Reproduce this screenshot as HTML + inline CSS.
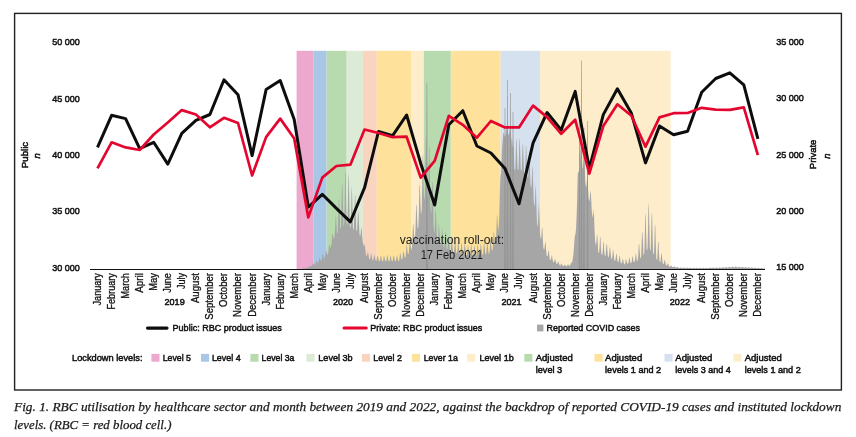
<!DOCTYPE html>
<html><head><meta charset="utf-8"><title>Fig 1</title>
<style>
html,body{margin:0;padding:0;background:#fff;}
body{width:856px;height:437px;overflow:hidden;}
svg{display:block;will-change:transform;}
.t{font-family:"Liberation Sans",sans-serif;font-size:9.5px;fill:#111;stroke:#111;stroke-width:0.5px;}
.m{font-size:10px;stroke-width:0.3px;}
.a{font-family:"Liberation Sans",sans-serif;font-size:12px;fill:#1c1c1c;}
.c{font-family:"Liberation Serif",serif;font-style:italic;font-size:12.6px;fill:#1a1a1a;stroke:#1a1a1a;stroke-width:0.25px;}
</style></head><body>
<svg width="856" height="437" viewBox="0 0 856 437">
<rect x="14.6" y="13.4" width="826.8" height="376.6" fill="#fff" stroke="#231f20" stroke-width="1.4"/>
<rect x="296.6" y="50.8" width="16.7" height="218.2" fill="#ECA8CD"/>
<rect x="313.3" y="50.8" width="13.3" height="218.2" fill="#A8C7E7"/>
<rect x="326.6" y="50.8" width="20.1" height="218.2" fill="#B8DAAF"/>
<rect x="346.7" y="50.8" width="16.2" height="218.2" fill="#DCEBD6"/>
<rect x="362.9" y="50.8" width="13.9" height="218.2" fill="#F9D4BF"/>
<rect x="376.8" y="50.8" width="34.2" height="218.2" fill="#FEE29C"/>
<rect x="411" y="50.8" width="12.8" height="218.2" fill="#FDEDCB"/>
<rect x="423.8" y="50.8" width="27.0" height="218.2" fill="#B8DAAF"/>
<rect x="450.8" y="50.8" width="49.8" height="218.2" fill="#FEE29C"/>
<rect x="500.6" y="50.8" width="39.4" height="218.2" fill="#D6E1F0"/>
<rect x="540" y="50.8" width="130.6" height="218.2" fill="#FDEDCB"/>
<path d="M300,269L300.00,269.0L300.46,268.9L300.92,268.9L301.38,268.8L301.84,268.8L302.30,268.7L302.77,268.6L303.23,268.4L303.69,268.3L304.15,268.4L304.61,268.4L305.07,268.4L305.53,268.3L305.99,268.1L306.45,267.6L306.91,267.4L307.37,267.5L307.84,267.6L308.30,267.5L308.76,267.3L309.22,266.7L309.68,266.0L310.14,265.6L310.60,266.0L311.06,266.5L311.52,266.3L311.98,266.0L312.44,265.1L312.91,263.6L313.37,263.3L313.83,264.2L314.29,264.9L314.75,264.9L315.21,264.5L315.67,263.1L316.13,260.7L316.59,260.5L317.05,262.0L317.51,262.9L317.98,262.8L318.44,262.3L318.90,260.5L319.36,257.7L319.82,257.7L320.28,259.2L320.74,260.7L321.20,260.7L321.66,260.1L322.12,257.8L322.58,254.0L323.05,254.1L323.51,256.2L323.97,258.5L324.43,258.5L324.89,257.8L325.35,255.4L325.81,250.7L326.27,250.4L326.73,253.1L327.19,255.2L327.66,254.6L328.12,253.2L328.58,249.5L329.04,244.8L329.50,244.6L329.96,246.6L330.42,247.9L330.88,247.2L331.34,245.0L331.80,240.3L332.26,234.8L332.73,233.7L333.19,235.8L333.65,238.9L334.11,238.8L334.57,236.8L335.03,229.5L335.49,219.7L335.95,214.6L336.41,224.1L336.87,232.7L337.33,233.9L337.80,231.4L338.26,216.8L338.72,198.9L339.18,199.8L339.64,211.2L340.10,227.7L340.56,229.4L341.02,226.7L341.48,207.6L341.94,183.9L342.40,186.0L342.87,200.9L343.33,224.0L343.79,226.8L344.25,223.0L344.71,202.6L345.17,171.2L345.63,172.9L346.09,198.3L346.55,222.4L347.01,225.3L347.47,221.9L347.94,199.7L348.40,173.3L348.86,178.3L349.32,201.5L349.78,224.7L350.24,227.9L350.70,226.0L351.16,209.2L351.62,184.4L352.08,193.8L352.54,210.1L353.01,227.8L353.47,229.9L353.93,227.9L354.39,212.9L354.85,196.8L355.31,194.2L355.77,213.3L356.23,229.0L356.69,231.2L357.15,230.1L357.61,219.7L358.08,210.6L358.54,213.7L359.00,223.4L359.46,234.0L359.92,236.1L360.38,236.0L360.84,231.5L361.30,227.0L361.76,230.1L362.22,236.7L362.68,241.4L363.15,243.5L363.61,245.7L364.07,245.9L364.53,244.1L364.99,246.7L365.45,250.1L365.91,254.2L366.37,255.6L366.83,256.4L367.29,254.6L367.75,252.1L368.22,252.8L368.68,255.9L369.14,258.9L369.60,259.4L370.06,259.3L370.52,257.2L370.98,253.3L371.44,254.5L371.90,257.2L372.36,260.1L372.82,260.5L373.29,260.2L373.75,257.8L374.21,254.9L374.67,255.6L375.13,258.3L375.59,260.5L376.05,260.8L376.51,260.6L376.97,258.3L377.43,255.9L377.90,256.1L378.36,258.3L378.82,260.9L379.28,261.3L379.74,261.0L380.20,259.2L380.66,256.2L381.12,255.8L381.58,258.8L382.04,261.0L382.50,261.3L382.97,261.0L383.43,259.0L383.89,255.2L384.35,256.5L384.81,259.0L385.27,261.0L385.73,261.3L386.19,261.0L386.65,258.9L387.11,255.1L387.57,255.4L388.04,258.8L388.50,261.0L388.96,261.3L389.42,261.0L389.88,258.8L390.34,255.9L390.80,256.1L391.26,258.7L391.72,261.0L392.18,261.3L392.64,261.0L393.11,258.6L393.57,256.2L394.03,255.3L394.49,258.4L394.95,261.0L395.41,261.3L395.87,261.0L396.33,258.7L396.79,256.2L397.25,255.4L397.71,258.7L398.18,260.9L398.64,261.0L399.10,260.4L399.56,257.8L400.02,253.0L400.48,253.5L400.94,256.7L401.40,259.3L401.86,259.5L402.32,258.9L402.78,255.6L403.25,251.4L403.71,251.7L404.17,254.5L404.63,257.8L405.09,257.9L405.55,256.9L406.01,252.3L406.47,245.6L406.93,245.0L407.39,250.6L407.85,254.0L408.32,254.2L408.78,252.9L409.24,247.7L409.70,239.9L410.16,238.6L410.62,244.6L411.08,249.9L411.54,249.2L412.00,246.6L412.46,238.4L412.92,225.6L413.39,223.6L413.85,230.9L414.31,238.0L414.77,237.9L415.23,234.8L415.69,222.7L416.15,205.6L416.61,204.6L417.07,216.5L417.53,228.1L417.99,228.7L418.46,225.3L418.92,210.1L419.38,185.5L419.84,185.3L420.30,197.4L420.76,213.4L421.22,213.6L421.68,208.7L422.14,189.3L422.60,157.3L423.06,153.1L423.53,175.0L423.99,198.1L424.45,200.4L424.91,195.6L425.37,172.1L425.83,137.5L426.29,136.3L426.75,164.8L427.21,193.5L427.67,198.2L428.13,195.9L428.60,176.7L429.06,144.4L429.52,149.9L429.98,184.4L430.44,206.8L430.90,212.2L431.36,212.5L431.82,197.3L432.28,181.4L432.74,183.5L433.21,208.0L433.67,227.3L434.13,232.0L434.59,232.7L435.05,222.4L435.51,208.6L435.97,210.5L436.43,225.6L436.89,237.9L437.35,240.3L437.81,240.1L438.28,233.9L438.74,222.0L439.20,226.9L439.66,235.4L440.12,243.3L440.58,244.9L441.04,244.7L441.50,239.3L441.96,227.8L442.42,232.0L442.88,239.9L443.35,246.3L443.81,247.4L444.27,246.9L444.73,241.1L445.19,231.7L445.65,232.6L446.11,241.7L446.57,248.5L447.03,249.5L447.49,249.1L447.95,244.1L448.42,235.9L448.88,239.1L449.34,244.3L449.80,250.7L450.26,251.6L450.72,251.2L451.18,246.4L451.64,238.3L452.10,241.0L452.56,246.7L453.02,251.7L453.49,252.5L453.95,251.9L454.41,247.5L454.87,241.0L455.33,241.6L455.79,247.4L456.25,252.4L456.71,253.1L457.17,252.6L457.63,247.7L458.09,242.0L458.56,241.8L459.02,248.6L459.48,253.2L459.94,254.0L460.40,253.4L460.86,249.2L461.32,243.0L461.78,243.2L462.24,248.5L462.70,253.9L463.16,254.5L463.63,254.1L464.09,249.6L464.55,244.0L465.01,244.9L465.47,249.7L465.93,254.6L466.39,255.3L466.85,254.7L467.31,250.7L467.77,245.3L468.23,246.0L468.70,250.0L469.16,254.8L469.62,255.3L470.08,254.8L470.54,250.9L471.00,243.9L471.46,245.1L471.92,250.6L472.38,254.8L472.84,255.3L473.30,254.8L473.77,250.9L474.23,245.7L474.69,245.7L475.15,250.5L475.61,254.8L476.07,255.4L476.53,254.8L476.99,250.8L477.45,244.5L477.91,245.4L478.37,249.9L478.84,254.8L479.30,255.5L479.76,254.8L480.22,250.5L480.68,243.6L481.14,245.2L481.60,249.7L482.06,254.5L482.52,255.0L482.98,254.3L483.45,250.3L483.91,242.9L484.37,243.5L484.83,248.6L485.29,253.9L485.75,254.4L486.21,253.7L486.67,249.5L487.13,243.5L487.59,242.3L488.05,247.9L488.52,253.3L488.98,253.9L489.44,252.8L489.90,247.7L490.36,239.5L490.82,238.3L491.28,245.4L491.74,250.2L492.20,250.6L492.66,249.2L493.12,243.0L493.59,232.7L494.05,232.1L494.51,239.8L494.97,244.8L495.43,244.6L495.89,242.1L496.35,233.2L496.81,217.5L497.27,214.1L497.73,225.3L498.19,231.0L498.66,226.8L499.12,219.8L499.58,203.8L500.04,185.9L500.50,175.7L500.96,174.4L501.42,167.6L501.88,151.4L502.34,144.8L502.80,140.0L503.26,133.7L503.73,132.5L504.19,133.8L504.65,136.5L505.11,136.6L505.57,135.8L506.03,132.7L506.49,127.8L506.95,128.4L507.41,131.5L507.87,134.2L508.33,134.8L508.80,134.9L509.26,132.5L509.72,128.9L510.18,129.9L510.64,134.0L511.10,137.3L511.56,140.0L512.02,147.1L512.48,146.5L512.94,137.7L513.40,143.4L513.87,154.0L514.33,168.7L514.79,170.4L515.25,168.7L515.71,156.6L516.17,138.9L516.63,139.7L517.09,155.6L517.55,168.7L518.01,170.3L518.47,168.8L518.94,156.5L519.40,137.7L519.86,141.0L520.32,155.2L520.78,169.2L521.24,170.9L521.70,169.4L522.16,156.8L522.62,144.8L523.08,143.3L523.54,159.2L524.01,171.7L524.47,173.8L524.93,172.7L525.39,162.4L525.85,145.6L526.31,146.1L526.77,162.9L527.23,175.3L527.69,177.8L528.15,177.7L528.61,169.7L529.08,157.3L529.54,155.8L530.00,171.2L530.46,184.6L530.92,187.3L531.38,187.4L531.84,178.9L532.30,165.5L532.76,169.2L533.22,185.5L533.69,200.2L534.15,205.0L534.61,206.8L535.07,198.8L535.53,184.6L535.99,191.6L536.45,207.4L536.91,222.2L537.37,225.7L537.83,226.1L538.29,216.7L538.76,202.5L539.22,210.3L539.68,223.3L540.14,235.2L540.60,238.2L541.06,238.9L541.52,233.5L541.98,227.3L542.44,228.8L542.90,240.2L543.36,247.6L543.83,249.5L544.29,249.8L544.75,246.1L545.21,241.0L545.67,243.7L546.13,249.9L546.59,255.2L547.05,256.2L547.51,256.3L547.97,254.3L548.43,250.4L548.90,251.4L549.36,255.8L549.82,259.2L550.28,260.0L550.74,260.0L551.20,258.4L551.66,255.1L552.12,256.1L552.58,259.5L553.04,261.7L553.50,262.3L553.97,262.4L554.43,261.0L554.89,258.6L555.35,259.8L555.81,261.6L556.27,263.5L556.73,263.9L557.19,264.0L557.65,263.0L558.11,261.3L558.57,262.0L559.04,263.7L559.50,265.1L559.96,265.5L560.42,265.5L560.88,264.6L561.34,263.6L561.80,263.7L562.26,264.9L562.72,265.9L563.18,266.1L563.64,266.1L564.11,265.5L564.57,264.7L565.03,264.7L565.49,265.5L565.95,266.2L566.41,266.3L566.87,266.1L567.33,265.5L567.79,264.6L568.25,264.6L568.71,265.4L569.18,265.8L569.64,265.6L570.10,265.2L570.56,264.2L571.02,263.0L571.48,262.6L571.94,263.0L572.40,261.1L572.86,258.2L573.32,254.9L573.78,249.7L574.25,242.9L574.71,237.0L575.17,235.0L575.63,232.9L576.09,227.5L576.55,217.6L577.01,203.6L577.47,183.9L577.93,171.0L578.39,171.6L578.85,173.6L579.32,171.3L579.78,167.8L580.24,156.7L580.70,142.1L581.16,140.9L581.62,154.0L582.08,163.1L582.54,167.5L583.00,169.2L583.46,162.9L583.92,156.0L584.39,160.5L584.85,171.1L585.31,182.3L585.77,185.9L586.23,187.2L586.69,183.3L587.15,177.0L587.61,177.7L588.07,189.3L588.53,197.8L589.00,200.4L589.46,201.1L589.92,197.0L590.38,190.6L590.84,193.1L591.30,201.2L591.76,210.5L592.22,214.5L592.68,217.9L593.14,215.2L593.60,208.3L594.07,215.4L594.53,229.6L594.99,239.4L595.45,243.4L595.91,245.5L596.37,242.5L596.83,235.7L597.29,234.5L597.75,243.2L598.21,251.7L598.67,253.1L599.14,252.4L599.60,246.2L600.06,236.7L600.52,238.1L600.98,248.2L601.44,254.1L601.90,255.3L602.36,254.6L602.82,250.0L603.28,242.5L603.74,241.5L604.21,249.9L604.67,255.2L605.13,256.1L605.59,255.5L606.05,250.0L606.51,244.5L606.97,243.5L607.43,250.2L607.89,256.2L608.35,257.2L608.81,256.7L609.28,252.8L609.74,246.7L610.20,248.3L610.66,252.9L611.12,258.1L611.58,259.0L612.04,258.7L612.50,255.1L612.96,250.0L613.42,250.8L613.88,256.1L614.35,260.1L614.81,260.8L615.27,260.6L615.73,258.2L616.19,253.7L616.65,253.8L617.11,258.1L617.57,261.6L618.03,262.1L618.49,262.0L618.95,259.5L619.42,255.5L619.88,256.3L620.34,260.1L620.80,262.9L621.26,263.5L621.72,263.3L622.18,261.5L622.64,259.3L623.10,259.5L623.56,261.8L624.02,264.2L624.49,264.4L624.95,264.1L625.41,262.3L625.87,259.0L626.33,259.5L626.79,261.8L627.25,263.6L627.71,263.8L628.17,263.4L628.63,261.5L629.09,258.3L629.56,257.4L630.02,260.8L630.48,263.0L630.94,263.2L631.40,262.8L631.86,260.3L632.32,256.3L632.78,256.8L633.24,259.9L633.70,262.1L634.16,262.3L634.63,261.7L635.09,259.0L635.55,255.0L636.01,253.1L636.47,257.8L636.93,261.0L637.39,260.9L637.85,259.8L638.31,254.8L638.77,244.3L639.24,243.9L639.70,250.4L640.16,257.5L640.62,258.5L641.08,256.8L641.54,247.1L642.00,231.7L642.46,233.0L642.92,241.1L643.38,254.1L643.84,255.4L644.31,252.6L644.77,238.1L645.23,215.9L645.69,213.0L646.15,234.4L646.61,249.1L647.07,250.9L647.53,247.7L647.99,230.3L648.45,202.2L648.91,208.2L649.38,228.1L649.84,248.3L650.30,250.7L650.76,248.7L651.22,230.9L651.68,212.4L652.14,215.2L652.60,236.7L653.06,252.1L653.52,254.6L653.98,253.5L654.45,241.3L654.91,223.4L655.37,227.2L655.83,245.5L656.29,258.1L656.75,260.2L657.21,259.5L657.67,251.4L658.13,240.5L658.59,243.1L659.05,254.2L659.52,261.3L659.98,262.3L660.44,261.8L660.90,257.5L661.36,253.5L661.82,253.7L662.28,260.0L662.74,263.4L663.20,264.1L663.66,263.9L664.12,262.1L664.59,259.6L665.05,261.1L665.51,263.0L665.97,265.1L666.43,265.6L666.89,265.7L667.35,264.7L667.81,263.4L668.27,264.1L668.73,265.4L669.19,266.4L669.66,266.7L670.12,266.8L670.58,266.5L671.04,265.6L671.50,265.8L671.96,266.4L672.42,267.1L672.88,267.2L673.34,267.2L673.80,266.9L674.26,266.3L674.73,266.4L675.19,267.0L675.65,267.5L676.11,267.6L676.57,267.6L677.03,267.3L677.49,266.9L677.95,266.9L678.41,267.4L678.87,267.9L679.33,267.9L679.80,268.0L680.26,267.8L680.72,267.4L681.18,267.4L681.64,267.7L682.10,268.0L682.56,268.1L683.02,268.0L683.48,267.8L683.94,267.5L684.40,267.4L684.87,267.8L685.33,268.1L685.79,268.1L686.25,268.1L686.71,267.9L687.17,267.5L687.63,267.6L688.09,267.9L688.55,268.1L689.01,268.1L689.48,268.1L689.94,267.9L690.40,267.6L690.86,267.7L691.32,267.9L691.78,268.2L692.24,268.2L692.70,268.2L693.16,268.0L693.62,267.6L694.08,267.7L694.55,268.0L695.01,268.2L695.47,268.2L695.93,268.2L696.39,268.0L696.85,267.7L697.31,267.8L697.77,268.0L698.23,268.3L698.69,268.3L699.15,268.3L699.62,268.1L700.08,267.8L700.54,267.8L701.00,268.1L701.46,268.3L701.92,268.3L702.38,268.2L702.84,268.1L703.30,267.8L703.76,267.8L704.22,268.0L704.69,268.2L705.15,268.2L705.61,268.2L706.07,268.0L706.53,267.7L706.99,267.7L707.45,267.9L707.91,268.2L708.37,268.2L708.83,268.1L709.29,267.9L709.76,267.6L710.22,267.6L710.68,267.9L711.14,268.1L711.60,268.1L712.06,268.1L712.52,267.9L712.98,267.5L713.44,267.5L713.90,267.8L714.36,268.1L714.83,268.1L715.29,268.1L715.75,267.8L716.21,267.4L716.67,267.5L717.13,267.8L717.59,268.0L718.05,268.1L718.51,268.0L718.97,267.8L719.43,267.3L719.90,267.4L720.36,267.7L720.82,267.9L721.28,268.0L721.74,267.9L722.20,267.6L722.66,267.1L723.12,267.2L723.58,267.5L724.04,267.8L724.50,267.8L724.97,267.8L725.43,267.4L725.89,267.1L726.35,267.0L726.81,267.4L727.27,267.7L727.73,267.7L728.19,267.7L728.65,267.3L729.11,266.7L729.57,266.7L730.04,267.2L730.50,267.6L730.96,267.6L731.42,267.5L731.88,267.2L732.34,266.6L732.80,266.6L733.26,267.0L733.72,267.4L734.18,267.5L734.64,267.4L735.11,267.0L735.57,266.3L736.03,266.6L736.49,266.9L736.95,267.4L737.41,267.5L737.87,267.5L738.33,267.2L738.79,266.5L739.25,266.7L739.71,267.2L740.18,267.5L740.64,267.6L741.10,267.6L741.56,267.2L742.02,266.7L742.48,266.8L742.94,267.3L743.40,267.6L743.86,267.7L744.32,267.7L744.79,267.4L745.25,267.0L745.71,267.0L746.17,267.4L746.63,267.7L747.09,267.8L747.55,267.8L748.01,267.5L748.47,267.0L748.93,267.0L749.39,267.5L749.86,267.9L750.32,267.9L750.78,267.9L751.24,267.6L751.70,267.3L752.16,267.4L752.62,267.7L753.08,268.0L753.54,268.0L754.00,268.0L754.46,267.8L754.93,267.5L755.39,267.6L755.85,267.9L756.31,268.1L756.77,268.2L757.23,268.2L757.69,268.0L758.15,267.7L758.61,267.9L759.07,268.1L759.53,268.3L760.00,268.3L760.46,268.3L760.92,268.2L761.38,268.1L761.84,268.0L762.30,268.3L762.76,268.5L763.22,268.5L763.68,268.5L764.14,268.4L764.60,268.3L765,269Z" fill="#a6a6a6"/>
<path d="M426.1,269L426.6,83L427.2,83L427.7,269Z" fill="#949494"/><path d="M506.7,269L507.2,80L507.8,80L508.3,269Z" fill="#949494"/><path d="M509.7,269L510.2,93L510.8,93L511.3,269Z" fill="#949494"/><path d="M580.8,269L581.3,60.6L581.9,60.6L582.4,269Z" fill="#949494"/><path d="M586.7,269L587.2,121L587.8,121L588.3,269Z" fill="#949494"/><path d="M504.2,269L504.7,108L505.3,108L505.8,269Z" fill="#949494"/><path d="M512.2,269L512.7,112L513.3,112L513.8,269Z" fill="#949494"/><path d="M578.7,269L579.2,120L579.8,120L580.3,269Z" fill="#949494"/><path d="M583.2,269L583.7,128L584.3,128L584.8,269Z" fill="#949494"/>
<line x1="90" y1="269.5" x2="765" y2="269.5" stroke="#111" stroke-width="1.1"/>
<polyline points="97.5,147.4 111.6,115.3 125.6,118.6 139.7,148.7 153.7,142.3 167.8,164.1 181.8,133.3 195.9,120.4 209.9,114.5 224.0,79.8 238.0,94.7 252.1,155.6 266.1,89.6 280.2,80.6 294.2,119.5 308.3,207.1 322.3,194.3 336.4,208.4 350.4,221.8 364.5,187.8 378.5,131.5 392.6,135.6 406.6,115.0 420.7,163.4 434.7,205.0 448.8,124.8 462.8,110.7 476.9,146.0 490.9,153.0 505.0,168.6 519.0,203.8 533.1,142.9 547.1,112.5 561.2,130.0 575.2,91.4 589.3,168.6 603.3,114.6 617.4,88.8 631.4,113.3 645.5,162.9 659.5,126.0 673.6,134.8 687.6,131.3 701.7,92.2 715.7,78.5 729.8,72.8 743.8,84.9 757.9,138.9" fill="none" stroke="#0d0d0d" stroke-width="3" stroke-linejoin="round" stroke-linecap="butt"/>
<polyline points="97.5,168.3 111.6,142.3 125.6,147.4 139.7,150.0 153.7,134.5 167.8,122.5 181.8,110.1 195.9,114.5 209.9,127.3 224.0,117.8 238.0,123.0 252.1,175.5 266.1,137.1 280.2,118.6 294.2,138.5 308.3,217.4 322.3,177.6 336.4,166.0 350.4,164.7 364.5,129.5 378.5,133.0 392.6,137.2 406.6,136.7 420.7,177.6 434.7,160.8 448.8,115.8 462.8,124.8 476.9,137.7 490.9,121.0 505.0,127.4 519.0,127.4 533.1,105.6 547.1,117.1 561.2,133.8 575.2,119.7 589.3,173.7 603.3,126.1 617.4,104.3 631.4,115.8 645.5,146.7 659.5,117.4 673.6,113.2 687.6,113.0 701.7,107.8 715.7,109.6 729.8,109.9 743.8,107.4 757.9,155.2" fill="none" stroke="#e4062f" stroke-width="2.7" stroke-linejoin="round" stroke-linecap="butt"/>
<text x="79.8" y="44.7" text-anchor="end" class="t" textLength="27.6" lengthAdjust="spacingAndGlyphs">50 000</text>
<text x="79.8" y="101.6" text-anchor="end" class="t" textLength="27.6" lengthAdjust="spacingAndGlyphs">45 000</text>
<text x="79.8" y="157.6" text-anchor="end" class="t" textLength="27.6" lengthAdjust="spacingAndGlyphs">40 000</text>
<text x="79.8" y="213.8" text-anchor="end" class="t" textLength="27.6" lengthAdjust="spacingAndGlyphs">35 000</text>
<text x="79.8" y="270.7" text-anchor="end" class="t" textLength="27.6" lengthAdjust="spacingAndGlyphs">30 000</text>
<text x="776.3" y="44.8" class="t" textLength="27.6" lengthAdjust="spacingAndGlyphs">35 000</text>
<text x="776.3" y="100.8" class="t" textLength="27.6" lengthAdjust="spacingAndGlyphs">30 000</text>
<text x="776.3" y="157.9" class="t" textLength="27.6" lengthAdjust="spacingAndGlyphs">25 000</text>
<text x="776.3" y="213.5" class="t" textLength="27.6" lengthAdjust="spacingAndGlyphs">20 000</text>
<text x="776.3" y="269.5" class="t" textLength="27.6" lengthAdjust="spacingAndGlyphs">15 000</text>
<text transform="translate(100.9,273.1) rotate(-90)" text-anchor="end" class="t m" textLength="32.4" lengthAdjust="spacingAndGlyphs">January</text>
<text transform="translate(115.0,273.1) rotate(-90)" text-anchor="end" class="t m" textLength="36.5" lengthAdjust="spacingAndGlyphs">February</text>
<text transform="translate(129.0,273.1) rotate(-90)" text-anchor="end" class="t m" textLength="25.4" lengthAdjust="spacingAndGlyphs">March</text>
<text transform="translate(143.1,273.1) rotate(-90)" text-anchor="end" class="t m" textLength="19.7" lengthAdjust="spacingAndGlyphs">April</text>
<text transform="translate(157.1,273.1) rotate(-90)" text-anchor="end" class="t m" textLength="17.7" lengthAdjust="spacingAndGlyphs">May</text>
<text transform="translate(171.2,273.1) rotate(-90)" text-anchor="end" class="t m" textLength="19.7" lengthAdjust="spacingAndGlyphs">June</text>
<text transform="translate(185.2,273.1) rotate(-90)" text-anchor="end" class="t m" textLength="16" lengthAdjust="spacingAndGlyphs">July</text>
<text transform="translate(199.3,273.1) rotate(-90)" text-anchor="end" class="t m" textLength="30" lengthAdjust="spacingAndGlyphs">August</text>
<text transform="translate(213.3,273.1) rotate(-90)" text-anchor="end" class="t m" textLength="46.6" lengthAdjust="spacingAndGlyphs">September</text>
<text transform="translate(227.4,273.1) rotate(-90)" text-anchor="end" class="t m" textLength="33.9" lengthAdjust="spacingAndGlyphs">October</text>
<text transform="translate(241.4,273.1) rotate(-90)" text-anchor="end" class="t m" textLength="43.9" lengthAdjust="spacingAndGlyphs">November</text>
<text transform="translate(255.5,273.1) rotate(-90)" text-anchor="end" class="t m" textLength="43.7" lengthAdjust="spacingAndGlyphs">December</text>
<text transform="translate(269.5,273.1) rotate(-90)" text-anchor="end" class="t m" textLength="32.4" lengthAdjust="spacingAndGlyphs">January</text>
<text transform="translate(283.6,273.1) rotate(-90)" text-anchor="end" class="t m" textLength="36.5" lengthAdjust="spacingAndGlyphs">February</text>
<text transform="translate(297.6,273.1) rotate(-90)" text-anchor="end" class="t m" textLength="25.4" lengthAdjust="spacingAndGlyphs">March</text>
<text transform="translate(311.7,273.1) rotate(-90)" text-anchor="end" class="t m" textLength="19.7" lengthAdjust="spacingAndGlyphs">April</text>
<text transform="translate(325.7,273.1) rotate(-90)" text-anchor="end" class="t m" textLength="17.7" lengthAdjust="spacingAndGlyphs">May</text>
<text transform="translate(339.8,273.1) rotate(-90)" text-anchor="end" class="t m" textLength="19.7" lengthAdjust="spacingAndGlyphs">June</text>
<text transform="translate(353.8,273.1) rotate(-90)" text-anchor="end" class="t m" textLength="16" lengthAdjust="spacingAndGlyphs">July</text>
<text transform="translate(367.9,273.1) rotate(-90)" text-anchor="end" class="t m" textLength="30" lengthAdjust="spacingAndGlyphs">August</text>
<text transform="translate(381.9,273.1) rotate(-90)" text-anchor="end" class="t m" textLength="46.6" lengthAdjust="spacingAndGlyphs">September</text>
<text transform="translate(396.0,273.1) rotate(-90)" text-anchor="end" class="t m" textLength="33.9" lengthAdjust="spacingAndGlyphs">October</text>
<text transform="translate(410.0,273.1) rotate(-90)" text-anchor="end" class="t m" textLength="43.9" lengthAdjust="spacingAndGlyphs">November</text>
<text transform="translate(424.1,273.1) rotate(-90)" text-anchor="end" class="t m" textLength="43.7" lengthAdjust="spacingAndGlyphs">December</text>
<text transform="translate(438.1,273.1) rotate(-90)" text-anchor="end" class="t m" textLength="32.4" lengthAdjust="spacingAndGlyphs">January</text>
<text transform="translate(452.2,273.1) rotate(-90)" text-anchor="end" class="t m" textLength="36.5" lengthAdjust="spacingAndGlyphs">February</text>
<text transform="translate(466.2,273.1) rotate(-90)" text-anchor="end" class="t m" textLength="25.4" lengthAdjust="spacingAndGlyphs">March</text>
<text transform="translate(480.3,273.1) rotate(-90)" text-anchor="end" class="t m" textLength="19.7" lengthAdjust="spacingAndGlyphs">April</text>
<text transform="translate(494.3,273.1) rotate(-90)" text-anchor="end" class="t m" textLength="17.7" lengthAdjust="spacingAndGlyphs">May</text>
<text transform="translate(508.4,273.1) rotate(-90)" text-anchor="end" class="t m" textLength="19.7" lengthAdjust="spacingAndGlyphs">June</text>
<text transform="translate(522.4,273.1) rotate(-90)" text-anchor="end" class="t m" textLength="16" lengthAdjust="spacingAndGlyphs">July</text>
<text transform="translate(536.5,273.1) rotate(-90)" text-anchor="end" class="t m" textLength="30" lengthAdjust="spacingAndGlyphs">August</text>
<text transform="translate(550.5,273.1) rotate(-90)" text-anchor="end" class="t m" textLength="46.6" lengthAdjust="spacingAndGlyphs">September</text>
<text transform="translate(564.6,273.1) rotate(-90)" text-anchor="end" class="t m" textLength="33.9" lengthAdjust="spacingAndGlyphs">October</text>
<text transform="translate(578.6,273.1) rotate(-90)" text-anchor="end" class="t m" textLength="43.9" lengthAdjust="spacingAndGlyphs">November</text>
<text transform="translate(592.7,273.1) rotate(-90)" text-anchor="end" class="t m" textLength="43.7" lengthAdjust="spacingAndGlyphs">December</text>
<text transform="translate(606.7,273.1) rotate(-90)" text-anchor="end" class="t m" textLength="32.4" lengthAdjust="spacingAndGlyphs">January</text>
<text transform="translate(620.8,273.1) rotate(-90)" text-anchor="end" class="t m" textLength="36.5" lengthAdjust="spacingAndGlyphs">February</text>
<text transform="translate(634.8,273.1) rotate(-90)" text-anchor="end" class="t m" textLength="25.4" lengthAdjust="spacingAndGlyphs">March</text>
<text transform="translate(648.9,273.1) rotate(-90)" text-anchor="end" class="t m" textLength="19.7" lengthAdjust="spacingAndGlyphs">April</text>
<text transform="translate(662.9,273.1) rotate(-90)" text-anchor="end" class="t m" textLength="17.7" lengthAdjust="spacingAndGlyphs">May</text>
<text transform="translate(677.0,273.1) rotate(-90)" text-anchor="end" class="t m" textLength="19.7" lengthAdjust="spacingAndGlyphs">June</text>
<text transform="translate(691.0,273.1) rotate(-90)" text-anchor="end" class="t m" textLength="16" lengthAdjust="spacingAndGlyphs">July</text>
<text transform="translate(705.1,273.1) rotate(-90)" text-anchor="end" class="t m" textLength="30" lengthAdjust="spacingAndGlyphs">August</text>
<text transform="translate(719.1,273.1) rotate(-90)" text-anchor="end" class="t m" textLength="46.6" lengthAdjust="spacingAndGlyphs">September</text>
<text transform="translate(733.2,273.1) rotate(-90)" text-anchor="end" class="t m" textLength="33.9" lengthAdjust="spacingAndGlyphs">October</text>
<text transform="translate(747.2,273.1) rotate(-90)" text-anchor="end" class="t m" textLength="43.9" lengthAdjust="spacingAndGlyphs">November</text>
<text transform="translate(761.3,273.1) rotate(-90)" text-anchor="end" class="t m" textLength="43.7" lengthAdjust="spacingAndGlyphs">December</text>
<text x="174.6" y="304.9" text-anchor="middle" class="t" textLength="20.2" lengthAdjust="spacingAndGlyphs">2019</text>
<text x="343" y="304.9" text-anchor="middle" class="t" textLength="20.2" lengthAdjust="spacingAndGlyphs">2020</text>
<text x="511.5" y="304.9" text-anchor="middle" class="t" textLength="20.2" lengthAdjust="spacingAndGlyphs">2021</text>
<text x="679.9" y="304.9" text-anchor="middle" class="t" textLength="20.2" lengthAdjust="spacingAndGlyphs">2022</text>
<text transform="translate(28.2,155) rotate(-90)" text-anchor="middle" class="t" textLength="26.3" lengthAdjust="spacingAndGlyphs">Public</text>
<text transform="translate(40.3,155.8) rotate(-90)" text-anchor="middle" class="t" font-style="italic">n</text>
<text transform="translate(816.4,154.4) rotate(-90)" text-anchor="middle" class="t" textLength="29.6" lengthAdjust="spacingAndGlyphs">Private</text>
<text transform="translate(829.5,156) rotate(-90)" text-anchor="middle" class="t" font-style="italic">n</text>
<text x="399.8" y="244" class="a" textLength="104.2" lengthAdjust="spacingAndGlyphs">vaccination roll-out:</text>
<text x="420.7" y="259.3" class="a" textLength="62.3" lengthAdjust="spacingAndGlyphs">17 Feb 2021</text>
<line x1="147.5" y1="328.1" x2="167" y2="328.1" stroke="#0d0d0d" stroke-width="3.1" stroke-linecap="round"/>
<text x="172.6" y="331" class="t" textLength="109.2" lengthAdjust="spacingAndGlyphs">Public: RBC product issues</text>
<line x1="344" y1="328.1" x2="366.3" y2="328.1" stroke="#e4062f" stroke-width="3" stroke-linecap="round"/>
<text x="370.2" y="331" class="t" textLength="112.1" lengthAdjust="spacingAndGlyphs">Private: RBC product issues</text>
<rect x="537" y="324.6" width="6.4" height="6.8" fill="#a6a6a6"/>
<text x="546.6" y="331" class="t" textLength="93.3" lengthAdjust="spacingAndGlyphs">Reported COVID cases</text>
<text x="72" y="360.9" class="t" textLength="70.5" lengthAdjust="spacingAndGlyphs">Lockdown levels:</text>
<rect x="151.4" y="353.9" width="8.1" height="7.8" fill="#ECA8CD"/>
<text x="162.7" y="360.9" class="t" textLength="28.3" lengthAdjust="spacingAndGlyphs">Level 5</text>
<rect x="201" y="353.9" width="8.1" height="7.8" fill="#A8C7E7"/>
<text x="211.9" y="360.9" class="t" textLength="28.8" lengthAdjust="spacingAndGlyphs">Level 4</text>
<rect x="250.4" y="353.9" width="8.1" height="7.8" fill="#B8DAAF"/>
<text x="261.6" y="360.9" class="t" textLength="32.8" lengthAdjust="spacingAndGlyphs">Level 3a</text>
<rect x="306.4" y="353.9" width="8.1" height="7.8" fill="#DCEBD6"/>
<text x="318.3" y="360.9" class="t" textLength="34.3" lengthAdjust="spacingAndGlyphs">Level 3b</text>
<rect x="361.9" y="353.9" width="8.1" height="7.8" fill="#F9D4BF"/>
<text x="373.3" y="360.9" class="t" textLength="28.5" lengthAdjust="spacingAndGlyphs">Level 2</text>
<rect x="411.9" y="353.9" width="8.1" height="7.8" fill="#FEE29C"/>
<text x="423.7" y="360.9" class="t" textLength="34.1" lengthAdjust="spacingAndGlyphs">Lever 1a</text>
<rect x="467.2" y="353.9" width="8.1" height="7.8" fill="#FDEDCB"/>
<text x="479.5" y="360.9" class="t" textLength="34.2" lengthAdjust="spacingAndGlyphs">Level 1b</text>
<rect x="524.3" y="353.9" width="8.1" height="7.8" fill="#B8DAAF"/>
<text x="535.7" y="360.9" class="t" textLength="37.1" lengthAdjust="spacingAndGlyphs">Adjusted</text>
<text x="535.7" y="372.8" class="t" textLength="26.5" lengthAdjust="spacingAndGlyphs">level 3</text>
<rect x="594.5" y="353.9" width="8.1" height="7.8" fill="#FEE29C"/>
<text x="605.1" y="360.9" class="t" textLength="37.1" lengthAdjust="spacingAndGlyphs">Adjusted</text>
<text x="605.1" y="372.8" class="t" textLength="56" lengthAdjust="spacingAndGlyphs">levels 1 and 2</text>
<rect x="664.5" y="353.9" width="8.1" height="7.8" fill="#D6E1F0"/>
<text x="675.3" y="360.9" class="t" textLength="37.1" lengthAdjust="spacingAndGlyphs">Adjusted</text>
<text x="675.3" y="372.8" class="t" textLength="55.5" lengthAdjust="spacingAndGlyphs">levels 3 and 4</text>
<rect x="733.4" y="353.9" width="8.1" height="7.8" fill="#FDEDCB"/>
<text x="744.7" y="360.9" class="t" textLength="37.1" lengthAdjust="spacingAndGlyphs">Adjusted</text>
<text x="744.7" y="372.8" class="t" textLength="56" lengthAdjust="spacingAndGlyphs">levels 1 and 2</text>
<text x="14" y="410.7" class="c" textLength="827.3" lengthAdjust="spacingAndGlyphs">Fig. 1. RBC utilisation by healthcare sector and month between 2019 and 2022, against the backdrop of reported COVID-19 cases and instituted lockdown</text>
<text x="14" y="429.1" class="c" textLength="157.4" lengthAdjust="spacingAndGlyphs">levels. (RBC = red blood cell.)</text>
</svg>
</body></html>
